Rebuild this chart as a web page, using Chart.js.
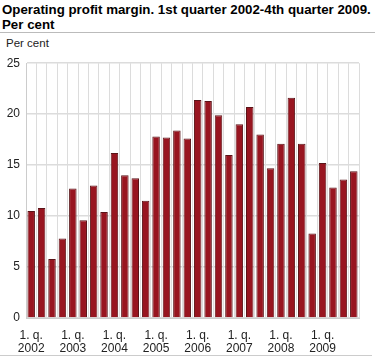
<!DOCTYPE html>
<html>
<head>
<meta charset="utf-8">
<script src="https://cdn.jsdelivr.net/npm/chart.js@4/dist/chart.umd.min.js"></script>
<style>
  body { margin: 0; background: #fff; font-family: "Liberation Sans", Arial, sans-serif; }
  #wrap { position: relative; width: 376px; height: 358px; }
  #title { position: absolute; left: 2px; top: 2px; font-weight: bold; font-size: 13.3px; line-height: 15px; color: #000; }
  #rule1 { position: absolute; left: 0; top: 32px; width: 375px; height: 1px; background: #bbb; }
  #unit { position: absolute; left: 6px; top: 37px; font-size: 11.5px; color: #222; }
  #rule2 { position: absolute; left: 0; top: 355px; width: 372px; height: 1px; background: #ccc; }
  #c { position: absolute; left: 0; top: 50px; }
</style>
</head>
<body>
<div id="wrap">
  <div id="title">Operating profit margin. 1st quarter 2002-4th quarter 2009.<br>Per cent</div>
  <div id="rule1"></div>
  <div id="unit">Per cent</div>
  <canvas id="c" width="376" height="305"></canvas>
  <div id="rule2"></div>
</div>
<script>
const years = ['2002', '2003', '2004', '2005', '2006', '2007', '2008', '2009'];
const quarters = ['1', '2', '3', '4'];
const margin = [
    10.5, 10.8, 5.8, 7.8,
    12.7, 9.6, 13.0, 10.4,
    16.2, 14.0, 13.7, 11.5,
    17.8, 17.7, 18.4, 17.6,
    21.4, 21.3, 19.9, 16.0,
    19.0, 20.7, 18.0, 14.7,
    17.1, 21.6, 17.1, 8.3,
    15.2, 12.8, 13.6, 14.4
];
const yTicks = [0, 5, 10, 15, 20, 25];

// one label per quarter, only first quarter shows text
const labels = [];
years.forEach(y => {
    quarters.forEach(q => {
        labels.push(q === '1' ? ['1. q.', y] : '');
    });
});

const ctx = document.getElementById('c').getContext('2d');
new Chart(ctx, {
    type: 'bar',
    data: {
        labels: labels,
        datasets: [{
            label: 'Per cent',
            data: margin,
            backgroundColor: '#981520',
            borderColor: '#5a1418',
            borderWidth: 1,
            barPercentage: 0.72,
            categoryPercentage: 1
        }]
    },
    options: {
        responsive: false,
        animation: false,
        layout: { padding: { left: 0, right: 17, top: 12, bottom: 0 } },
        plugins: { legend: { display: false }, tooltip: { enabled: false } },
        scales: {
            x: {
                grid: { color: '#dcdcdc', drawTicks: false, offset: true },
                border: { color: '#cccccc' },
                ticks: {
                    autoSkip: false, maxRotation: 0, padding: 11,
                    color: '#222', font: { family: 'Liberation Sans', size: 12, lineHeight: 1.1 }
                },
                afterFit: function(scale) { scale.height = 37; }
            },
            y: {
                min: 0, max: 25,
                afterBuildTicks: function(scale) { scale.ticks = yTicks.map(v => ({ value: v })); },
                grid: { color: '#dcdcdc', drawTicks: false, lineWidth: 1.5 },
                border: { color: '#cccccc' },
                ticks: {
                    padding: 6, color: '#222',
                    font: { family: 'Liberation Sans', size: 12 }
                },
                afterFit: function(scale) { scale.width = 26; }
            }
        }
    }
});
</script>
</body>
</html>
